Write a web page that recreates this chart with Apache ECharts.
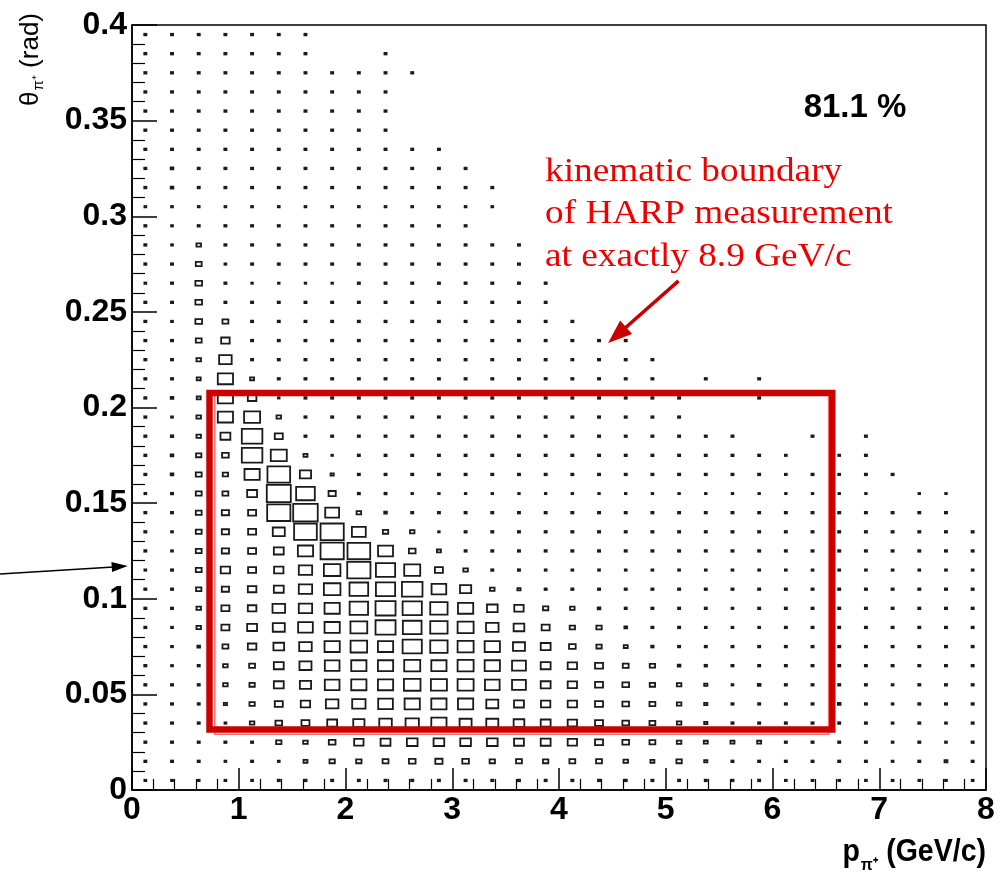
<!DOCTYPE html>
<html><head><meta charset="utf-8">
<script src="https://cdn.jsdelivr.net/npm/echarts@6/dist/echarts.min.js"></script>
<style>html,body{margin:0;padding:0;background:#fff}#c{width:1000px;height:877px}</style>
</head><body><div id="c"></div>
<script>
// ---- binning ----
const xBinWidth = 0.25;   // GeV/c
const yBinWidth = 0.01;   // rad
const xCenters = [0.125,0.375,0.625,0.875,1.125,1.375,1.625,1.875,2.125,2.375,2.625,2.875,3.125,3.375,3.625,3.875,
                  4.125,4.375,4.625,4.875,5.125,5.375,5.625,5.875,6.125,6.375,6.625,6.875,7.125,7.375,7.625,7.875];
const yCenters = [0.005,0.015,0.025,0.035,0.045,0.055,0.065,0.075,0.085,0.095,0.105,0.115,0.125,0.135,0.145,0.155,
                  0.165,0.175,0.185,0.195,0.205,0.215,0.225,0.235,0.245,0.255,0.265,0.275,0.285,0.295,0.305,0.315,
                  0.325,0.335,0.345,0.355,0.365,0.375,0.385,0.395];
// relative cell content (box side in % of the cell), one row per theta bin (bottom row first)
const cellContent = [
 [7,7,7,7,7,8,8,8, 8,8,8,8,8,8,8,8, 8,8,8,8,8,8,8,8, 7,7,7,7,7,7,7,7],
 [8,8,8,7,8,7,15,20, 20,22,25,27,25,20,22,20, 22,22,17,15,20,12,8,8, 8,8,8,8,7,8,11,8],
 [8,8,8,8,8,20,17,25, 35,37,40,40,40,40,37,37, 35,30,25,22,17,15,15,15, 8,8,8,8,7,8,7,8],
 [8,8,8,7,17,25,30,37, 42,47,50,57,45,45,40,37, 35,30,25,22,17,12,8,8, 8,8,8,8,7,8,7,8],
 [8,8,8,12,20,30,35,47, 50,55,57,57,57,45,37,35, 35,30,25,22,17,12,8,8, 8,8,10,8,7,8,8,8],
 [8,8,8,17,20,37,42,55, 57,57,62,60,60,55,52,37, 35,30,25,20,17,12,7,10, 8,8,8,8,7,8,8,8],
 [8,7,8,17,22,37,45,55, 57,57,60,57,60,57,52,37, 35,30,22,20,10,9,8,8, 8,8,8,8,8,8,8,8],
 [8,7,10,22,32,40,47,57, 62,57,72,65,60,57,45,37, 25,20,15,9,8,8,8,8, 8,8,8,8,8,8,8,8],
 [8,7,17,30,37,45,55,57, 63,75,70,65,60,47,40,30, 20,20,10,8,8,7,7,7, 8,8,8,8,8,8,8,8],
 [8,8,17,30,32,47,50,57, 69,75,72,65,57,40,35,20, 17,10,8,8,8,8,7,8, 8,8,8,8,8,8,8,8],
 [8,8,20,27,32,37,50,62, 70,72,77,55,42,17,12,8, 8,8,8,8,8,8,8,8, 8,8,8,8,8,8,8,8],
 [7,8,22,35,30,35,50,62, 87,72,60,30,17,8,8,7, 7,7,7,7,7,7,7,7, 7,7,7,7,7,7,7,7],
 [8,7,22,27,30,37,57,87, 85,56,25,15,8,8,8,8, 8,8,8,8,8,8,8,8, 8,8,8,8,8,8,8,8],
 [8,7,22,27,30,45,85,87, 52,20,17,6,8,8,8,8, 8,8,8,8,8,8,8,8, 8,8,8,8,8,8,8,8],
 [8,8,22,27,30,87,92,52, 17,10,8,8,8,8,8,8, 8,8,8,8,8,8,8,8, 8,8,8,8,8,8,8,0],
 [7,8,22,22,37,90,70,27, 8,8,6,6,6,6,6,6, 6,6,6,6,6,6,6,6, 6,6,6,6,0,6,6,0],
 [8,10,22,20,57,85,42,12, 8,8,8,8,8,8,8,8, 8,8,8,8,8,8,8,8, 7,8,7,8,8,0,0,0],
 [8,10,20,25,77,60,15,6, 8,8,8,8,8,8,8,8, 8,8,8,8,8,8,8,8, 7,0,7,8,0,0,0,0],
 [8,9,17,37,77,30,8,8, 8,8,8,8,8,8,8,8, 8,8,8,8,8,8,8,0, 0,8,0,8,0,0,0,0],
 [8,7,17,57,60,17,8,8, 8,8,8,8,8,8,8,8, 8,8,8,8,8,0,0,0, 0,0,0,0,0,0,0,0],
 [8,10,15,57,32,6,8,8, 8,8,8,8,8,8,8,8, 8,8,8,8,8,0,0,8, 0,0,0,0,0,0,0,0],
 [8,8,15,57,15,8,8,8, 8,8,8,8,8,8,8,8, 8,8,8,8,0,8,0,8, 0,0,0,0,0,0,0,0],
 [8,8,17,47,8,8,8,8, 8,8,8,8,8,8,8,8, 8,8,8,8,0,0,0,0, 0,0,0,0,0,0,0,0],
 [8,8,22,32,8,8,8,8, 8,8,8,8,8,8,8,8, 8,8,8,0,0,0,0,0, 0,0,0,0,0,0,0,0],
 [8,7,25,22,8,8,8,8, 8,8,8,8,8,8,8,8, 8,0,0,0,0,0,0,0, 0,0,0,0,0,0,0,0],
 [8,8,25,8,8,8,8,8, 8,8,8,8,8,8,8,8, 0,0,0,0,0,0,0,0, 0,0,0,0,0,0,0,0],
 [7,8,25,8,6,6,6,6, 8,8,8,8,8,8,8,8, 0,0,0,0,0,0,0,0, 0,0,0,0,0,0,0,0],
 [8,8,22,7,8,8,8,8, 8,8,8,8,8,8,8,0, 0,0,0,0,0,0,0,0, 0,0,0,0,0,0,0,0],
 [8,7,17,8,8,8,8,8, 8,8,8,8,8,8,8,0, 0,0,0,0,0,0,0,0, 0,0,0,0,0,0,0,0],
 [8,7,8,8,8,8,8,8, 8,8,8,8,8,0,0,0, 0,0,0,0,0,0,0,0, 0,0,0,0,0,0,0,0],
 [7,7,7,7,7,7,7,7, 7,7,7,7,7,7,0,0, 0,0,0,0,0,0,0,0, 0,0,0,0,0,0,0,0],
 [8,10,8,8,8,8,8,8, 8,8,8,8,8,8,0,0, 0,0,0,0,0,0,0,0, 0,0,0,0,0,0,0,0],
 [8,10,8,8,8,8,8,8, 8,8,8,8,8,0,0,0, 0,0,0,0,0,0,0,0, 0,0,0,0,0,0,0,0],
 [8,8,8,8,8,8,8,8, 8,8,8,8,0,0,0,0, 0,0,0,0,0,0,0,0, 0,0,0,0,0,0,0,0],
 [8,8,8,8,8,8,8,8, 8,8,0,0,0,0,0,0, 0,0,0,0,0,0,0,0, 0,0,0,0,0,0,0,0],
 [8,8,8,8,8,8,8,8, 8,8,0,0,0,0,0,0, 0,0,0,0,0,0,0,0, 0,0,0,0,0,0,0,0],
 [8,8,8,8,8,8,8,8, 8,8,0,0,0,0,0,0, 0,0,0,0,0,0,0,0, 0,0,0,0,0,0,0,0],
 [8,8,8,8,8,8,8,8, 8,8,8,0,0,0,0,0, 0,0,0,0,0,0,0,0, 0,0,0,0,0,0,0,0],
 [8,8,8,8,8,8,8,0, 0,8,0,0,0,0,0,0, 0,0,0,0,0,0,0,0, 0,0,0,0,0,0,0,0],
 [8,8,8,8,8,8,8,0, 0,0,0,0,0,0,0,0, 0,0,0,0,0,0,0,0, 0,0,0,0,0,0,0,0]
];
// ---- annotations (data coordinates) ----
const boundaryBox   = [0.726, 0.0316, 6.56, 0.2076];   // [pMin, thMin, pMax, thMax]
const boundaryInner = [0.775, 0.0292, 6.525, 0.2088];
const redArrow   = [5.12, 0.2662, 4.46, 0.2337];       // [x1,y1,x2(tip),y2(tip)]
const blackArrow = [-1.2365, 0.1129, -0.04, 0.1171];
const percentText = '81.1 %';
const noteLines = ['kinematic boundary', 'of HARP measurement', 'at exactly 8.9 GeV/c'];

const boxData = [];
cellContent.forEach((row, j) => row.forEach((v, i) => { if (v > 0) boxData.push([xCenters[i], yCenters[j], v]); }));

function renderBox(params, api) {
  const c = api.coord([api.value(0), api.value(1)]);
  const s = api.size([xBinWidth, yBinWidth]);
  const r = api.value(2) / 100;
  const w = s[0] * r, h = s[1] * r;
  return { type: 'rect', shape: { x: c[0] - w / 2, y: c[1] - h / 2, width: w, height: h },
           style: { fill: 'none', stroke: '#1a1a1a', lineWidth: 1.8 } };
}
function makeRectRenderer(color, width) {
  return function (params, api) {
    const p1 = api.coord([api.value(0), api.value(3)]);
    const p2 = api.coord([api.value(2), api.value(1)]);
    return { type: 'rect', shape: { x: p1[0], y: p1[1], width: p2[0] - p1[0], height: p2[1] - p1[1] },
             style: { fill: 'none', stroke: color, lineWidth: width } };
  };
}
function makeArrowRenderer(color, width, headLen, headWidth) {
  return function (params, api) {
    const p1 = api.coord([api.value(0), api.value(1)]);
    const p2 = api.coord([api.value(2), api.value(3)]);
    const dx = p2[0] - p1[0], dy = p2[1] - p1[1], L = Math.hypot(dx, dy);
    const ux = dx / L, uy = dy / L, hw = headWidth / 2;
    const b = [p2[0] - ux * headLen, p2[1] - uy * headLen];
    return { type: 'group', children: [
      { type: 'line', shape: { x1: p1[0], y1: p1[1], x2: b[0] + ux * 2, y2: b[1] + uy * 2 }, style: { stroke: color, lineWidth: width } },
      { type: 'polygon', shape: { points: [p2, [b[0] - uy * hw, b[1] + ux * hw], [b[0] + uy * hw, b[1] - ux * hw]] }, style: { fill: color } }
    ] };
  };
}

const labelFont = { color: '#000', fontFamily: 'Liberation Sans', fontWeight: 'bold', fontSize: 32 };
const chart = echarts.init(document.getElementById('c'), null, { renderer: 'canvas' });
chart.setOption({
  animation: false,
  backgroundColor: '#fff',
  grid: { left: 132, right: 14, top: 25, bottom: 87, show: true, borderColor: '#000', borderWidth: 1.5, backgroundColor: 'transparent' },
  xAxis: {
    type: 'value', min: 0, max: 8, interval: 1,
    axisLine: { show: true, onZero: false, lineStyle: { color: '#000', width: 1.5 } },
    axisTick: { show: true, inside: true, length: 22, lineStyle: { color: '#000', width: 1.5 } },
    minorTick: { show: true, splitNumber: 5, length: 11, lineStyle: { color: '#000', width: 1.2 } },
    splitLine: { show: false },
    axisLabel: Object.assign({ margin: 4 }, labelFont)
  },
  yAxis: {
    type: 'value', min: 0, max: 0.4, interval: 0.05,
    axisLine: { show: true, onZero: false, lineStyle: { color: '#000', width: 1.5 } },
    axisTick: { show: true, inside: true, length: 25, lineStyle: { color: '#000', width: 1.5 } },
    minorTick: { show: true, splitNumber: 5, length: 13, lineStyle: { color: '#000', width: 1.2 } },
    splitLine: { show: false },
    axisLabel: Object.assign({ margin: 5, formatter: v => String(+v.toFixed(2)) }, labelFont)
  },
  series: [
    { type: 'custom', name: 'pi+ yield', renderItem: renderBox, data: boxData, silent: true, encode: { x: 0, y: 1 } },
    { type: 'custom', name: 'boundary-inner', renderItem: makeRectRenderer('#ff7070', 1.5), data: [boundaryInner], silent: true, z: 3 },
    { type: 'custom', name: 'boundary', renderItem: makeRectRenderer('#cc0000', 6.5), data: [boundaryBox], silent: true, z: 4 },
    { type: 'custom', name: 'red arrow', renderItem: makeArrowRenderer('#c80000', 3.5, 24, 18), data: [redArrow], silent: true, z: 5 },
    { type: 'custom', name: 'black arrow', renderItem: makeArrowRenderer('#000', 1.5, 16, 10), data: [blackArrow], silent: true, z: 5, clip: false }
  ],
  graphic: [
    { type: 'text', x: 855, y: 108, style: { text: percentText, font: 'bold 33px "Liberation Sans"', fill: '#000', align: 'center', verticalAlign: 'middle', textAlign: 'center', textVerticalAlign: 'middle' } },
    { type: 'text', x: 545, y: 172, scaleX: 1.13, style: { text: noteLines[0], font: '33px "Liberation Serif"', fill: '#ee0000', align: 'left', verticalAlign: 'middle', textAlign: 'left', textVerticalAlign: 'middle' } },
    { type: 'text', x: 545, y: 214, scaleX: 1.13, style: { text: noteLines[1], font: '33px "Liberation Serif"', fill: '#ee0000', align: 'left', verticalAlign: 'middle', textAlign: 'left', textVerticalAlign: 'middle' } },
    { type: 'text', x: 545, y: 257, scaleX: 1.13, style: { text: noteLines[2], font: '33px "Liberation Serif"', fill: '#ee0000', align: 'left', verticalAlign: 'middle', textAlign: 'left', textVerticalAlign: 'middle' } },
    { type: 'text', x: 986, y: 852, scaleX: 0.92, style: { text: '{m|p}{s|π⁺}{m| (GeV/c)}', align: 'right', verticalAlign: 'middle', textAlign: 'right', textVerticalAlign: 'middle',
        rich: { m: { font: 'bold 31px "Liberation Sans"', fill: '#000', color: '#000' }, s: { font: 'bold 17px "Liberation Sans"', fill: '#000', color: '#000', padding: [26, 0, 0, 1] } } } },
    { type: 'text', x: 31, y: 13, rotation: Math.PI / 2, style: { text: '{m|θ}{s|π⁺}{m| (rad)}', align: 'right', verticalAlign: 'middle', textAlign: 'right', textVerticalAlign: 'middle',
        rich: { m: { font: '26px "Liberation Sans"', fill: '#000', color: '#000' }, s: { font: '15px "Liberation Sans"', fill: '#000', color: '#000', padding: [16, 0, 0, 1] } } } }
  ]
});
</script></body></html>
